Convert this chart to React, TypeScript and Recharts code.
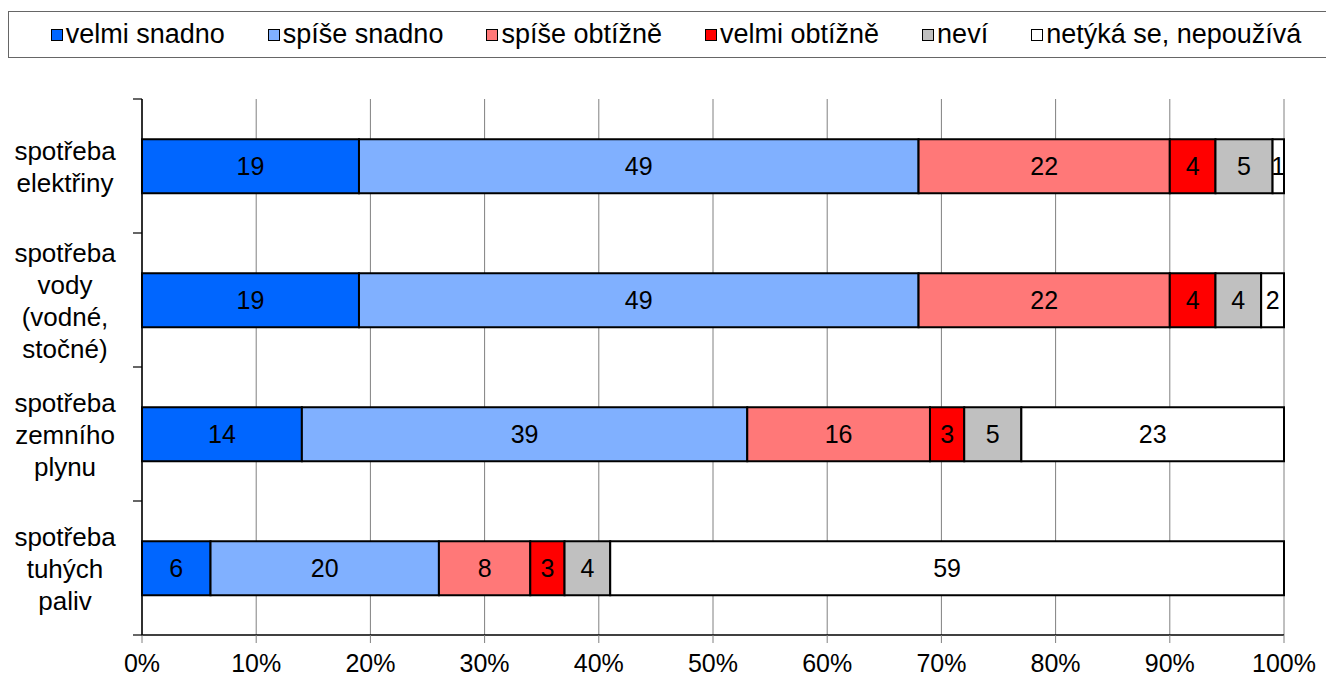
import React from 'react';
import { BarChart, Bar, XAxis, YAxis, CartesianGrid, Legend, LabelList } from 'recharts';

const FONT = '"Liberation Sans", Arial, Helvetica, sans-serif';

const categories = [
  'spotřeba\nelektřiny',
  'spotřeba\nvody\n(vodné,\nstočné)',
  'spotřeba\nzemního\nplynu',
  'spotřeba\ntuhých\npaliv',
];

const seriesNames = ['velmi snadno', 'spíše snadno', 'spíše obtížně', 'velmi obtížně', 'neví', 'netýká se, nepoužívá'];
const seriesColors = ['#0066ff', '#80b0ff', '#ff7878', '#ff0000', '#c0c0c0', '#ffffff'];

const velmiSnadno = [19, 19, 14, 6];
const spiseSnadno = [49, 49, 39, 20];
const spiseObtizne = [22, 22, 16, 8];
const velmiObtizne = [4, 4, 3, 3];
const nevi = [5, 4, 5, 4];
const netyka = [1, 2, 23, 59];

const xTicks = [0, 10, 20, 30, 40, 50, 60, 70, 80, 90, 100];

const seriesValues = [velmiSnadno, spiseSnadno, spiseObtizne, velmiObtizne, nevi, netyka];
const keys = ['s0', 's1', 's2', 's3', 's4', 's5'];

const data = categories.map((cat, i) => {
  const row: Record<string, any> = { cat };
  keys.forEach((k, j) => {
    row[k] = seriesValues[j][i];
  });
  return row;
});

const CAT_TICK_MARGIN = 77;
const BOUNDARY_TICK = 9;

function CatTick(props: any) {
  const { x, y, payload, index, visibleTicksCount } = props;
  const lines = String(payload.value).split('\n');
  const lh = 32;
  const start = y - ((lines.length - 1) * lh) / 2 + 10;
  const axisX = x + CAT_TICK_MARGIN;
  const half = typeof payload.offset === 'number' ? payload.offset : 0;
  const isLast = visibleTicksCount != null ? index === visibleTicksCount - 1 : index === categories.length - 1;
  return (
    <g>
      {half > 0 && (
        <line x1={axisX - BOUNDARY_TICK} x2={axisX} y1={y - half} y2={y - half} stroke="#000" strokeWidth={1.2} />
      )}
      {half > 0 && isLast && (
        <line x1={axisX - BOUNDARY_TICK} x2={axisX} y1={y + half} y2={y + half} stroke="#000" strokeWidth={1.2} />
      )}
      <text x={x} y={start} textAnchor="middle" fontSize={26} fontFamily={FONT} fill="#000">
        {lines.map((l: string, i: number) => (
          <tspan key={i} x={x} y={start + i * lh}>
            {l}
          </tspan>
        ))}
      </text>
    </g>
  );
}

function LegendContent() {
  return (
    <div
      style={{
        display: 'flex',
        justifyContent: 'center',
        alignItems: 'center',
        height: '100%',
        fontFamily: FONT,
        fontSize: 27,
        color: '#000',
        paddingLeft: 14,
      }}
    >
      {seriesNames.map((name, i) => (
        <div key={name} style={{ display: 'flex', alignItems: 'center', marginLeft: i ? 43 : 0 }}>
          <span
            style={{
              display: 'inline-block',
              width: 10,
              height: 10,
              border: '1.5px solid #000',
              background: seriesColors[i],
              marginRight: 3,
            }}
          />
          <span>{name}</span>
        </div>
      ))}
    </div>
  );
}

export default function App() {
  return (
    <div
      style={{
        position: 'absolute',
        left: 0,
        top: 0,
        width: 1326,
        height: 676,
        overflow: 'hidden',
        background: '#fff',
      }}
    >
      <BarChart
        width={1326}
        height={676}
        data={data}
        layout="vertical"
        margin={{ top: 99, right: 42, bottom: 0, left: 0 }}
        barCategoryGap="30%"
      >
        <CartesianGrid horizontal={false} stroke="#808080" />
        <XAxis
          type="number"
          domain={[0, 100]}
          ticks={xTicks}
          tickFormatter={(v: number) => `${v}%`}
          height={41}
          tickSize={8}
          tickMargin={11}
          axisLine={{ stroke: '#000', strokeWidth: 1.5 }}
          tickLine={{ stroke: '#808080' }}
          tick={{ fontSize: 25, fill: '#000', fontFamily: FONT }}
          interval={0}
        />
        <YAxis
          type="category"
          dataKey="cat"
          width={142}
          tickLine={false}
          tickSize={0}
          tickMargin={CAT_TICK_MARGIN}
          axisLine={{ stroke: '#000', strokeWidth: 1.5 }}
          tick={<CatTick />}
          interval={0}
        />
        <Legend
          layout="horizontal"
          verticalAlign="middle"
          align="center"
          content={<LegendContent />}
          wrapperStyle={{
            top: 11,
            left: 8,
            width: 1322,
            height: 47,
            border: '1px solid #666',
            boxSizing: 'border-box',
            background: '#fff',
          }}
        />
        {keys.map((k, j) => (
          <Bar
            key={k}
            dataKey={k}
            name={seriesNames[j]}
            stackId="a"
            fill={seriesColors[j]}
            stroke="#000"
            strokeWidth={2}
            isAnimationActive={false}
          >
            <LabelList dataKey={k} position="center" fill="#000" fontSize={25} fontFamily={FONT} />
          </Bar>
        ))}
      </BarChart>
    </div>
  );
}
